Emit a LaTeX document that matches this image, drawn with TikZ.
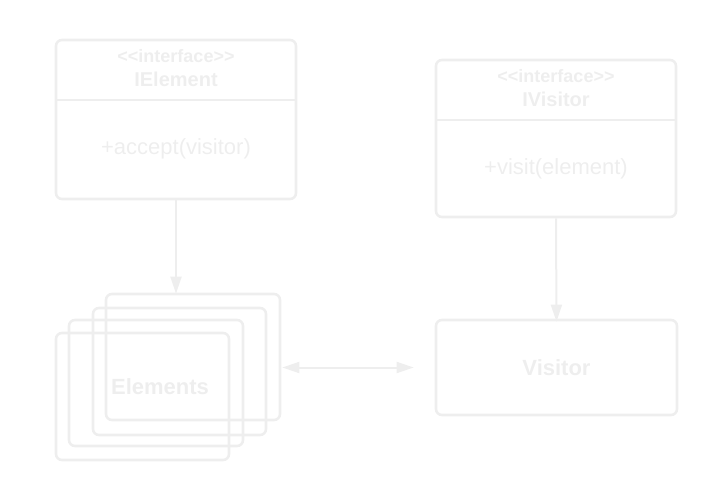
\documentclass[tikz,border=0pt]{standalone}
\usepackage{fontspec}
\setmainfont{Liberation Sans}
\usetikzlibrary{arrows.meta,positioning}
\definecolor{ghost}{HTML}{EEEEEE}

\begin{document}
\begin{tikzpicture}[x=1pt, y=-1pt, >={Triangle[length=17pt,width=11pt]},
  box/.style={draw=ghost, line width=2.6pt, rounded corners=6pt, minimum width=#1, inner sep=0pt},
  head/.style={minimum width=240pt, minimum height=61pt, inner sep=0pt},
  stereo/.style={text=ghost, font=\bfseries\fontsize{18}{21}\selectfont},
  title/.style={text=ghost, font=\bfseries\fontsize{20}{24}\selectfont},
  member/.style={text=ghost, font=\fontsize{22}{26}\selectfont},
  flow/.style={->, draw=ghost, fill=ghost, line width=2pt}]
  \useasboundingbox (0,0) rectangle (716,500);
  % interfaces
  \node[box=240pt, minimum height=159pt] (ielem) at (176,119.5) {};
  \node[head, below=0pt of ielem.north] (ielemhead) {};
  \draw[ghost, line width=2.6pt] (ielemhead.south west) -- (ielemhead.south east);
  \node[stereo] (ielemst) at (176,56) {<\kern0pt<interface>\kern0pt>};
  \node[title] (ielemname) at (176,79) {IElement};
  \node[member] (ielemop) at (176,148.5) {+accept(visitor)};
  \node[box=240pt, minimum height=157pt] (ivis) at (556,138.5) {};
  \node[head, below=0pt of ivis.north] (ivishead) {};
  \draw[ghost, line width=2.6pt] (ivishead.south west) -- (ivishead.south east);
  \node[stereo] (ivisst) at (556,76) {<\kern0pt<interface>\kern0pt>};
  \node[title] (ivisname) at (556,99) {IVisitor};
  \node[member] (ivisop) at (556,168.5) {+visit(element)};
  % concrete side
  \node[box=174pt, minimum height=126pt] (elem1) at (193,357) {};
  \node[box=173pt, minimum height=127pt] (elem2) at (179.5,371.5) {};
  \node[box=174pt, minimum height=126pt] (elem3) at (156,383) {};
  \node[box=173pt, minimum height=127pt] (elem4) at (142.5,396.5) {};
  \node[member, font=\bfseries\fontsize{22}{26}\selectfont] (elemtxt) at (160,387) {Elements};
  \node[box=241pt, minimum height=95pt, member, font=\bfseries\fontsize{22}{26}\selectfont] (visitor) at (556.5,367.5) {Visitor};
  \draw[flow] (ielem.south) -- ([yshift=-1pt]ielem.south |- elem1.north);
  \draw[flow] (ivis.south) -- ([yshift=-3pt]visitor.north);
  \draw[flow, <->, shorten <=1pt, shorten >=21pt] (visitor.west -| elem1.east) -- (visitor.west);
\end{tikzpicture}
\end{document}
